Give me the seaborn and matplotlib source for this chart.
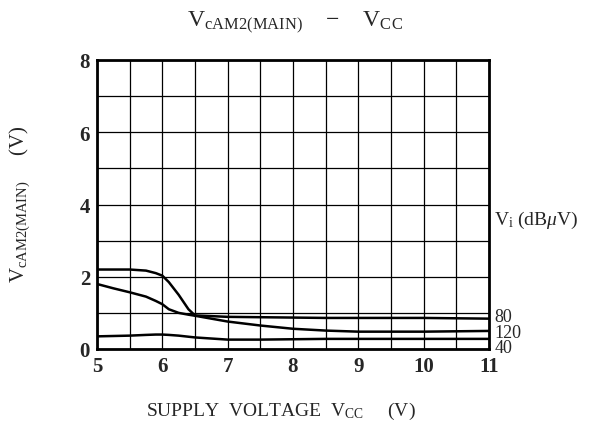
import numpy as np
import pandas as pd
import matplotlib
matplotlib.use("Agg")
import matplotlib.pyplot as plt
import seaborn as sns

# Values
vcc = [5.0, 5.25, 5.5, 5.75, 5.9, 6.0, 6.1, 6.25, 6.4, 6.5, 7.0, 7.5, 8.0, 8.5, 9.0, 10.0, 11.0]
v_80 = [2.2, 2.2, 2.2, 2.17, 2.1, 2.03, 1.85, 1.5, 1.1, 0.93, 0.89, 0.88, 0.87, 0.86, 0.86, 0.86, 0.84]
v_120 = [1.8, 1.68, 1.57, 1.45, 1.33, 1.24, 1.1, 1.0, 0.95, 0.92, 0.76, 0.65, 0.56, 0.51, 0.48, 0.48, 0.5]
v_40 = [0.35, 0.36, 0.37, 0.39, 0.4, 0.4, 0.39, 0.37, 0.34, 0.32, 0.26, 0.26, 0.27, 0.28, 0.28, 0.28, 0.28]
vi_levels = ["80", "120", "40"]
right_label_y = [0.9, 0.47, 0.03]

df = pd.concat([
    pd.DataFrame({"vcc": vcc, "v": v_80, "vi": "80"}),
    pd.DataFrame({"vcc": vcc, "v": v_120, "vi": "120"}),
    pd.DataFrame({"vcc": vcc, "v": v_40, "vi": "40"}),
])

sns.set_style("white")
plt.rcParams["font.family"] = ["Liberation Serif", "DejaVu Serif"]
plt.rcParams["mathtext.fontset"] = "custom"
plt.rcParams["mathtext.rm"] = "Liberation Serif"
plt.rcParams["mathtext.it"] = "Liberation Serif:italic"

fig = plt.figure(figsize=(5.93, 4.27), dpi=100)
ax = fig.add_axes([97 / 593, 1 - 350 / 427, 392 / 593, 289 / 427])

sns.lineplot(data=df, x="vcc", y="v", hue="vi", palette=["black"] * 3,
             linewidth=1.8, legend=False, ax=ax, sort=False)

ax.set_xlim(5, 11)
ax.set_ylim(0, 8)
ax.set_xticks(np.arange(5, 11.01, 0.5), minor=True)
ax.set_xticks(range(5, 12))
ax.set_yticks(range(0, 9), minor=True)
ax.set_yticks([0, 2, 4, 6, 8])
ax.grid(True, which="both", color="black", linewidth=0.9)
ax.tick_params(which="both", length=0, labelsize=15, pad=5)
for lab in ax.get_xticklabels() + ax.get_yticklabels():
    lab.set_fontweight("bold")
for s in ax.spines.values():
    s.set_color("black")
    s.set_linewidth(2)
ax.set_xlabel("")
ax.set_ylabel("")

for lbl, yy in zip(vi_levels, right_label_y):
    ax.text(11.08, yy, lbl, fontsize=13, va="center", ha="left", clip_on=False,
            linespacing=0.9)
ax.text(11.08, 3.6, r"V$_{\rm i}$ (dB$\mu$V)", fontsize=14, va="center", ha="left",
        clip_on=False)

fig.text(295 / 593, 1 - 23 / 427, r"V$_{\rm cAM2(MAIN)}$    $-$    V$_{\rm CC}$",
         fontsize=17, ha="center", va="center")
fig.text(281 / 593, 1 - 411 / 427, r"SUPPLY  VOLTAGE  V$_{\rm CC}$     (V)",
         fontsize=14, ha="center", va="center")
fig.text(20 / 593, 1 - 204 / 427, r"V$_{\rm cAM2(MAIN)}$     (V)",
         fontsize=15, ha="center", va="center", rotation=90)

fig.savefig("out.png", dpi=100)
